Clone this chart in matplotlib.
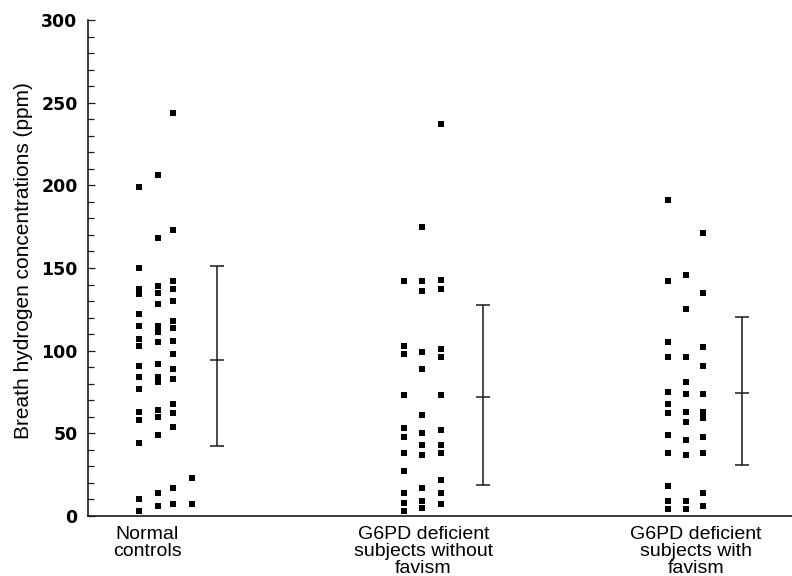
import matplotlib
matplotlib.use("Agg")
import matplotlib.pyplot as plt
from matplotlib.ticker import MultipleLocator

plt.rcParams['font.family'] = ['Liberation Sans', 'DejaVu Sans']

categories = ["Normal\ncontrols",
              "G6PD deficient\nsubjects without\nfavism",
              "G6PD deficient\nsubjects with\nfavism"]

# Individual breath hydrogen values (ppm), grouped by the small columns of the dot plot
normal_cols = [
    [199, 150, 137, 134, 122, 115, 107, 103, 91, 84, 77, 63, 58, 44, 10, 3],
    [206, 168, 139, 135, 128, 115, 111, 105, 92, 84, 81, 64, 60, 49, 14, 6],
    [244, 173, 142, 137, 130, 118, 114, 106, 98, 89, 83, 68, 62, 54, 17, 7],
    [23, 7],
]
nofavism_cols = [
    [142, 103, 98, 73, 53, 48, 38, 27, 14, 8, 3],
    [175, 142, 136, 99, 89, 61, 50, 43, 37, 17, 9, 5],
    [237, 143, 137, 101, 96, 73, 52, 43, 38, 22, 14, 7],
]
favism_cols = [
    [191, 142, 105, 96, 75, 68, 62, 49, 38, 18, 9, 4],
    [146, 125, 96, 81, 74, 63, 57, 46, 37, 9, 4],
    [171, 135, 102, 91, 74, 63, 59, 48, 38, 14, 6],
]

# Mean and the ends of the error bars
means = [94.5, 72.2, 74.2]
upper = [151.2, 127.6, 120.6]
lower = [42.5, 19.0, 31.0]

groups = [normal_cols, nofavism_cols, favism_cols]
col_offsets = [
    [-0.072, 0.0, 0.057, 0.129],
    [-0.068, 0.0, 0.072],
    [-0.068, 0.0, 0.064],
]
err_offsets = [0.224, 0.23, 0.21]
label_offsets = [-0.04, 0.005, 0.035]

fig = plt.figure(figsize=(7.92, 5.76), dpi=100)
ax = fig.add_axes([88 / 792, 60 / 576, 704 / 792, 496 / 576])

for gi, cols in enumerate(groups):
    for ci, vals in enumerate(cols):
        x = [gi + col_offsets[gi][ci]] * len(vals)
        ax.plot(x, vals, linestyle='none', marker='s', markersize=4.8,
                color='black', markeredgewidth=0, clip_on=False)
    ex = gi + err_offsets[gi]
    ax.errorbar([ex], [means[gi]],
                yerr=[[means[gi] - lower[gi]], [upper[gi] - means[gi]]],
                fmt='none', ecolor='#1a1a1a', elinewidth=1.1, capsize=4.8,
                capthick=1.1)
    ax.plot([ex], [means[gi]], marker='_', markersize=9.5,
            markeredgewidth=1.1, color='#1a1a1a')

ax.set_xlim(-0.265, 2.40)
ax.set_ylim(0, 300)

ax.spines['top'].set_visible(False)
ax.spines['right'].set_visible(False)
for s in ['left', 'bottom']:
    ax.spines[s].set_linewidth(1.2)
    ax.spines[s].set_color('#1a1a1a')

ax.yaxis.set_major_locator(MultipleLocator(50))
ax.yaxis.set_minor_locator(MultipleLocator(10))
ax.tick_params(axis='y', which='major', direction='in', length=5, width=0.9,
               pad=7.5, color='#1a1a1a', labelsize=12.5,
               labelfontfamily='DejaVu Sans')
ax.tick_params(axis='y', which='minor', direction='in', length=4.5, width=0.9,
               color='#1a1a1a')
for lab in ax.get_yticklabels():
    lab.set_fontweight('bold')

ax.set_xticks([i + label_offsets[i] for i in range(3)])
ax.set_xticklabels(categories, fontsize=14, linespacing=1.0)
ax.tick_params(axis='x', length=0, pad=7)

ax.set_ylabel("Breath hydrogen concentrations (ppm)", fontsize=15)
ax.yaxis.set_label_coords(-0.078, 0.516)

fig.savefig("out.png", dpi=100)
